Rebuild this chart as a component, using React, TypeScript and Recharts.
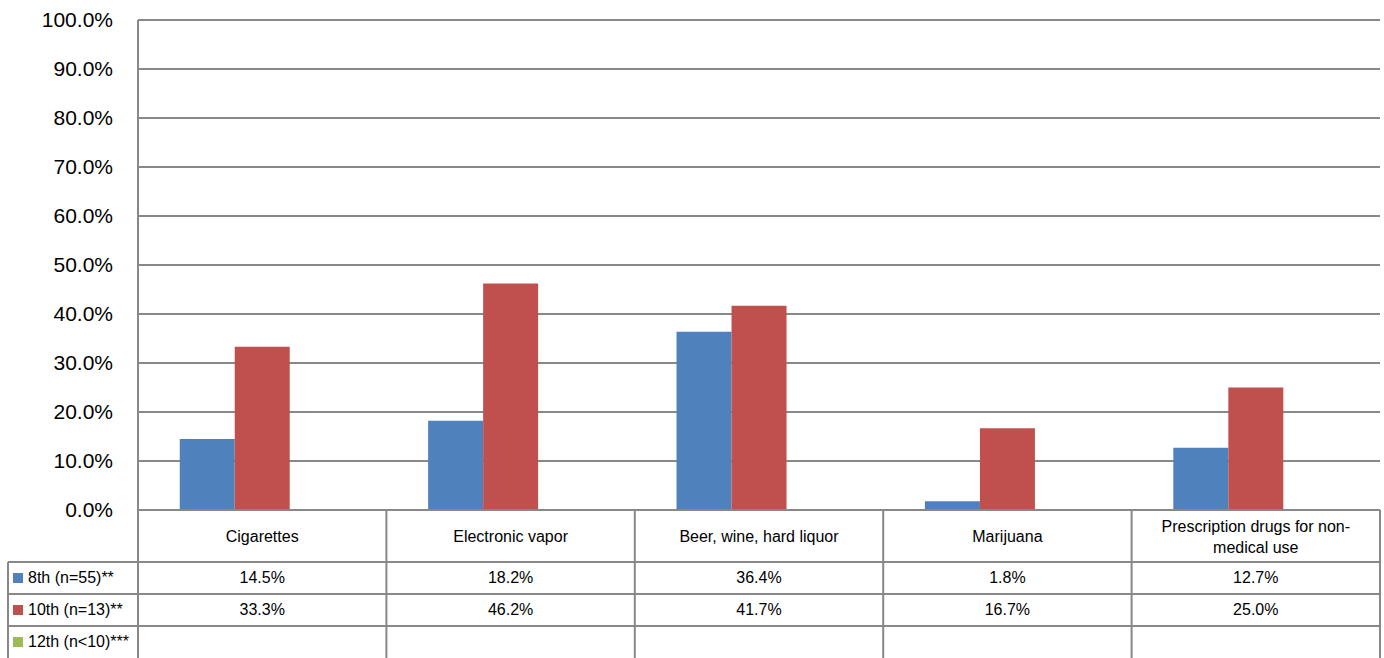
import React from 'react'
import { Bar, BarChart, CartesianGrid, XAxis, YAxis } from 'recharts'

const categories = [
  'Cigarettes',
  'Electronic vapor',
  'Beer, wine, hard liquor',
  'Marijuana',
  'Prescription drugs for non-medical use',
]
const grade8 = [14.5, 18.2, 36.4, 1.8, 12.7]
const grade10 = [33.3, 46.2, 41.7, 16.7, 25.0]
const grade12: (number | null)[] = [null, null, null, null, null]
const yTicks = [0, 10, 20, 30, 40, 50, 60, 70, 80, 90, 100]

const series = [
  { key: 'g8', label: '8th (n=55)**', color: '#4F81BD', values: grade8 },
  { key: 'g10', label: '10th (n=13)**', color: '#C0504D', values: grade10 },
  { key: 'g12', label: '12th (n<10)***', color: '#9BBB59', values: grade12 },
]

const data = categories.map((name, i) => {
  const row: Record<string, string | number | null> = { name }
  series.forEach((s) => {
    row[s.key] = s.values[i]
  })
  return row
})

const WIDTH = 1384
const HEIGHT = 658
const PLOT_LEFT = 138
const PLOT_RIGHT = 1380
const PLOT_BOTTOM = 510
const BAND = (PLOT_RIGHT - PLOT_LEFT) / categories.length
const HEADER_H = 52
const ROW_H = 32
const TABLE_LEFT = 8
const LINE = '#888888'
const FONT = '"Liberation Sans", Arial, sans-serif'

const fmt = (v: number | null) => (v == null ? '' : `${v.toFixed(1)}%`)

function wrapLabel(label: string, maxChars = 28): string[] {
  const tokens = label.split(/(?<=-)|\s+/).filter(Boolean)
  const lines: string[] = []
  let cur = ''
  tokens.forEach((t) => {
    const joiner = cur === '' || cur.endsWith('-') ? '' : ' '
    const next = cur + joiner + t
    if (next.length > maxChars && cur !== '') {
      lines.push(cur)
      cur = t
    } else {
      cur = next
    }
  })
  if (cur) lines.push(cur)
  return lines
}

// each x tick draws one column of the data table under the plot
function TableTick(props: any) {
  const { x, index, payload } = props
  const left = x - BAND / 2
  const right = x + BAND / 2
  const top = PLOT_BOTTOM
  const headerLines = wrapLabel(String(payload.value))
  const lineH = 21
  const headerMid = top + HEADER_H / 2 + 2
  const firstY = headerMid - ((headerLines.length - 1) * lineH) / 2

  return (
    <g fontFamily={FONT} fontSize={16} fill="#000">
      {headerLines.map((l, i) => (
        <text key={i} x={x} y={firstY + i * lineH} textAnchor="middle" dominantBaseline="middle">
          {l}
        </text>
      ))}
      {series.map((s, r) => {
        const rowTop = top + HEADER_H + r * ROW_H
        return (
          <g key={s.key}>
            <text x={x} y={rowTop + ROW_H / 2 + 1} textAnchor="middle" dominantBaseline="middle">
              {fmt(s.values[index])}
            </text>
            <line x1={left} x2={right} y1={rowTop} y2={rowTop} stroke={LINE} strokeWidth={2} />
            {index === 0 && (
              <g>
                <line x1={TABLE_LEFT} x2={left} y1={rowTop} y2={rowTop} stroke={LINE} strokeWidth={2} />
                <rect x={TABLE_LEFT + 5} y={rowTop + 11} width={10} height={10} fill={s.color} />
                <text x={TABLE_LEFT + 20} y={rowTop + ROW_H / 2 + 1} dominantBaseline="middle">
                  {s.label}
                </text>
              </g>
            )}
          </g>
        )
      })}
      <line x1={right} x2={right} y1={top} y2={HEIGHT} stroke={LINE} strokeWidth={2} />
      {index === 0 && (
        <g>
          <line x1={left} x2={left} y1={top} y2={HEIGHT} stroke={LINE} strokeWidth={2} />
          <line
            x1={TABLE_LEFT}
            x2={TABLE_LEFT}
            y1={top + HEADER_H}
            y2={HEIGHT}
            stroke={LINE}
            strokeWidth={2}
          />
        </g>
      )}
    </g>
  )
}

export default function App() {
  return (
    <div style={{ position: 'absolute', left: 0, top: 0, width: WIDTH, height: HEIGHT, background: '#fff' }}>
      <BarChart
        width={WIDTH}
        height={HEIGHT}
        data={data}
        margin={{ top: 20, right: WIDTH - PLOT_RIGHT, bottom: 0, left: 0 }}
        barCategoryGap="16.8%"
        barGap={0}
      >
        <CartesianGrid vertical={false} stroke={LINE} strokeWidth={2} />
        <XAxis
          dataKey="name"
          height={HEIGHT - PLOT_BOTTOM}
          axisLine={{ stroke: LINE, strokeWidth: 2 }}
          tickLine={false}
          interval={0}
          tick={<TableTick />}
        />
        <YAxis
          width={PLOT_LEFT}
          domain={[0, 100]}
          ticks={yTicks}
          tickFormatter={(v) => `${Number(v).toFixed(1)}%`}
          axisLine={{ stroke: LINE, strokeWidth: 2 }}
          tickLine={false}
          tickSize={0}
          tickMargin={25}
          tick={{ fontSize: 21, fill: '#000', fontFamily: FONT }}
        />
        {series.map((s) => (
          <Bar key={s.key} dataKey={s.key} name={s.label} fill={s.color} isAnimationActive={false} />
        ))}
      </BarChart>
    </div>
  )
}
